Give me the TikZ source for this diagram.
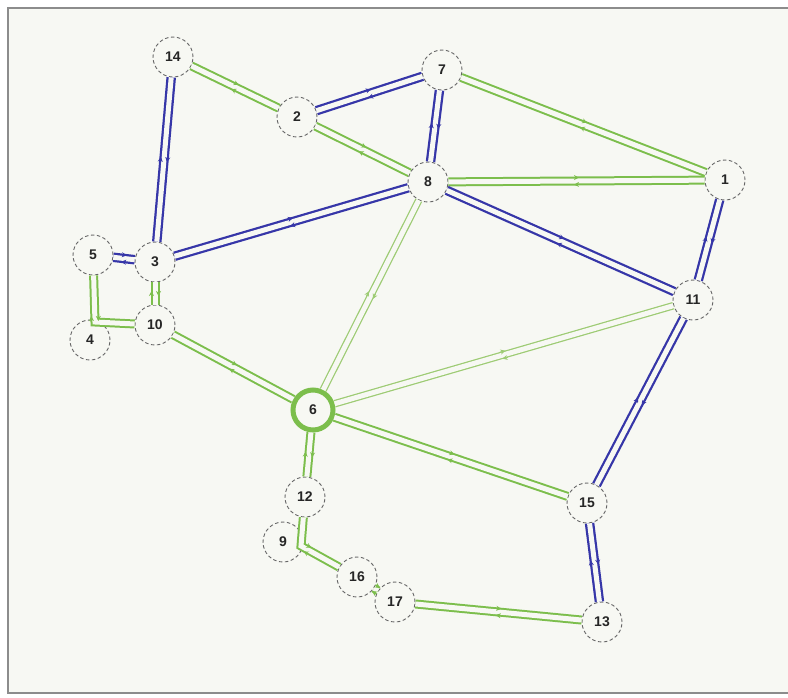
\documentclass[tikz,border=0pt]{standalone}
\usepackage{fontspec}
\setmainfont{Liberation Sans}
\usetikzlibrary{calc,decorations.markings,arrows.meta}
\definecolor{bg}{HTML}{F7F8F3}
\definecolor{gr}{HTML}{7CBE4C}
\definecolor{lgr}{HTML}{9DCB73}
\definecolor{bl}{HTML}{3636A8}
\tikzset{
  nd/.style={circle, draw=black!60, dash pattern=on 3.5pt off 2.5pt, line width=0.9pt,
    minimum size=40pt, inner sep=0pt, fill=bg, text=black!85,
    font=\fontsize{14}{14}\selectfont\bfseries},
}
% #1 colour, #2 outer width, #3 path
\newcommand\lk[3]{%
  \draw[line width=#2, #1] #3;
  \draw[line width=5pt, bg] #3;
  \path[decorate, decoration={markings, mark=at position 0.5 with {
      \draw[#1, line width=1pt, -{Stealth[length=5pt,width=5pt]}] (-3pt,3.5pt) -- (2.5pt,3.5pt);
      \draw[#1, line width=1pt, -{Stealth[length=5pt,width=5pt]}] (3pt,-3.5pt) -- (-2.5pt,-3.5pt);}}] #3;
}
\begin{document}
\begin{tikzpicture}[x=1pt,y=-1pt]
\useasboundingbox (0,0) rectangle (788,697);
\fill[white] (0,0) rectangle (788,697);
\fill[bg] (8,8) rectangle (788,693);
\draw[black!45, line width=1.5pt] (788,8) -- (8,8) -- (8,693) -- (788,693);

\node[nd] (14) at (173,57) {14};
\node[nd] (2) at (297,117) {2};
\node[nd] (7) at (442,70) {7};
\node[nd] (8) at (428,182) {8};
\node[nd] (1) at (725,180) {1};
\node[nd] (5) at (93,255) {5};
\node[nd] (3) at (155,262) {3};
\node[nd] (10) at (155,325) {10};
\node[nd] (4) at (90,340) {4};
\node[nd] (11) at (693,300) {11};
\node[nd, draw=gr, solid, line width=5pt] (6) at (313,410) {6};
\node[nd] (12) at (305,497) {12};
\node[nd] (9) at (283,542) {9};
\node[nd] (16) at (357,577) {16};
\node[nd] (17) at (395,602) {17};
\node[nd] (15) at (587,503) {15};
\node[nd] (13) at (602,622) {13};
\coordinate (k4) at (95,322);
\coordinate (k9) at (301,546);

% green links
\lk{gr}{9pt}{(14) -- (2)}
\lk{gr}{9pt}{(2) -- (8)}
\lk{gr}{9pt}{(7) -- (1)}
\lk{gr}{9pt}{(8) -- (1)}
\lk{gr}{9pt}{(6) -- (15)}
\lk{gr}{9pt}{(10) -- (6)}
\lk{gr}{9pt}{(5) -- (k4) -- (10)}
\lk{gr}{9pt}{(3) -- (10)}
\lk{gr}{9pt}{(6) -- (12)}
\lk{gr}{9pt}{(12) -- (k9) -- (16)}
\lk{gr}{9pt}{(16) -- (17)}
\lk{gr}{9pt}{(17) -- (13)}
\lk{lgr}{7.5pt}{(8) -- (6)}
\lk{lgr}{7.5pt}{(6) -- (11)}
% blue links
\lk{bl}{9.5pt}{(14) -- (3)}
\lk{bl}{9.5pt}{(2) -- (7)}
\lk{bl}{9.5pt}{(7) -- (8)}
\lk{bl}{9.5pt}{(3) -- (8)}
\lk{bl}{9.5pt}{(5) -- (3)}
\lk{bl}{9.5pt}{(8) -- (11)}
\lk{bl}{9.5pt}{(1) -- (11)}
\lk{bl}{9.5pt}{(11) -- (15)}
\lk{bl}{9.5pt}{(15) -- (13)}
\end{tikzpicture}
\end{document}
